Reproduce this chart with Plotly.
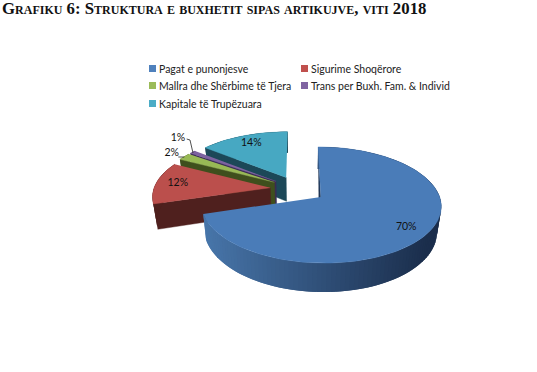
import numpy as np
import plotly.graph_objects as go

categories = ["Pagat e punonjesve", "Sigurime Shoqërore", "Mallra dhe Shërbime të Tjera",
              "Trans per Buxh. Fam. & Individ", "Kapitale të Trupëzuara"]
values = [70.4, 12.2, 2.1, 1.0, 14.3]
labels = ["70%", "12%", "2%", "1%", "14%"]
top_colors = ["#4a7cb8", "#bb4f4c", "#98b955", "#7d62a0", "#47a8c2"]
wall_colors = ["#1f3554", "#4f201e", "#3f4f1d", "#3a2a55", "#1c4858"]
legend_colors = ["#4f81bd", "#c0504d", "#9bbb59", "#8064a2", "#4bacc6"]
title = "Grafiku 6: Struktura e buxhetit sipas artikujve, viti 2018"

CX, CY, R, B, K, EXPL, H, CONV = 298.0, 189.0, 116.5, 54.8, 0.135, 0.24, 24.5, 0.97


def project(X, Y, low=False):
    w = 1 + K * Y
    sx = CX + R * X / w
    sy = CY - B * Y / w
    if low:
        sx = CX + (sx - CX) * CONV
        sy = sy + H / w
    return sx, sy


# slice angles, clockwise from 12 o'clock
total = sum(values)
edges = 90 - np.cumsum([0] + values) / total * 360
fig = go.Figure()


def poly(xs, ys, color, lw=0.4):
    fig.add_trace(go.Scatter(x=list(xs), y=list(ys), mode="lines", fill="toself", fillcolor=color,
                             line=dict(color=color, width=lw), hoverinfo="skip", showlegend=False))


def mix(t):
    a = np.array([72, 118, 170])
    b = np.array([27, 46, 76])
    c = a + (b - a) * t
    return "rgb(%d,%d,%d)" % tuple(c)


for i in [4, 3, 2, 1, 0]:
    a0, a1 = edges[i], edges[i + 1]
    mid = np.radians((a0 + a1) / 2)
    ox, oy = EXPL * np.cos(mid), EXPL * np.sin(mid)
    th = np.radians(np.linspace(a0, a1, max(3, int(abs(a0 - a1) / 2) + 1)))
    X = ox + np.cos(th)
    Y = oy + np.sin(th)
    # radial wall along the leading edge (the trailing one faces away)
    ax, ay = project(ox, oy)
    ex, ey = project(X[0], Y[0])
    lx0, ly0 = project(ox, oy, True)
    elx, ely = project(X[0], Y[0], True)
    if i == 0:
        poly([ex, ax, ax - 2.0], [ey, ay, ly0], wall_colors[i], 0)
    else:
        poly([ex, ax, lx0, elx], [ey, ay, ly0, ely], wall_colors[i])
    # outer wall; each quad overlaps the next one so the gradient has no seams
    n = len(th)
    order = range(n - 1)
    for j in order:
        k = min(j + 2, n - 1)
        p = [project(X[j], Y[j]), project(X[k], Y[k]), project(X[k], Y[k], True), project(X[j], Y[j], True)]
        if i == 0:
            col = mix(np.clip((p[0][0] - 205) / 225, 0, 1))
        else:
            col = wall_colors[i]
        poly([q[0] for q in p], [q[1] for q in p], col, 0)
    # top surface
    tx, ty = project(np.r_[ox, X], np.r_[oy, Y])
    poly(tx, ty, top_colors[i])

# data labels on the slices (proportional radius along the bisector)
label_r = [0.82, 0.81, 1.15, None, 0.8]
lx, ly = [], []
for i, r in enumerate(label_r):
    mid = np.radians((edges[i] + edges[i + 1]) / 2)
    ox, oy = EXPL * np.cos(mid), EXPL * np.sin(mid)
    if r is None:
        x, y = 178.0, 138.0
    else:
        x, y = project(ox + r * np.cos(mid), oy + r * np.sin(mid))
    lx.append(x)
    ly.append(y)
fig.add_trace(go.Scatter(x=lx, y=ly, mode="text", text=labels, textposition="middle center",
                         textfont=dict(family="Lato", size=10.5, color="#111111"),
                         hoverinfo="skip", showlegend=False))

# leader lines for the small slices
fig.add_trace(go.Scatter(x=[178.3, 184.3], y=[157, 157], mode="lines", line=dict(color="#222222", width=0.8),
                         hoverinfo="skip", showlegend=False))
fig.add_trace(go.Scatter(x=[186.7, 190, 193], y=[139, 140, 153], mode="lines", line=dict(color="#222222", width=0.8),
                         hoverinfo="skip", showlegend=False))

# legend
leg_x = [152.5, 304.5, 152.5, 304.5, 152.5]
leg_y = [68.5, 68.5, 85.5, 85.5, 103.5]
for i, name in enumerate(categories):
    fig.add_trace(go.Scatter(x=[leg_x[i]], y=[leg_y[i]], mode="markers", marker=dict(symbol="square", size=7, color=legend_colors[i]),
                             hoverinfo="skip", showlegend=False))
    fig.add_annotation(x=leg_x[i] + 4, y=leg_y[i], text=name, showarrow=False, xanchor="left", yanchor="middle",
                       font=dict(family="Lato", size=10.5, color="#222222"))

fig.update_layout(
    width=537, height=372, autosize=False,
    margin=dict(l=0, r=0, t=0, b=0),
    paper_bgcolor="white", plot_bgcolor="white",
    title=dict(text="<b>" + title + "</b>", x=2 / 537, xanchor="left", y=1 - 8 / 372, yanchor="middle",
               font=dict(family="Liberation Serif", size=16.8, color="#111111", variant="small-caps")),
    xaxis=dict(range=[0, 537], visible=False, fixedrange=True),
    yaxis=dict(range=[372, 0], visible=False, fixedrange=True),
)
fig.write_html("out.html", post_script="document.body.style.margin='0';document.documentElement.style.overflow='hidden';",
               config={"displayModeBar": False})
